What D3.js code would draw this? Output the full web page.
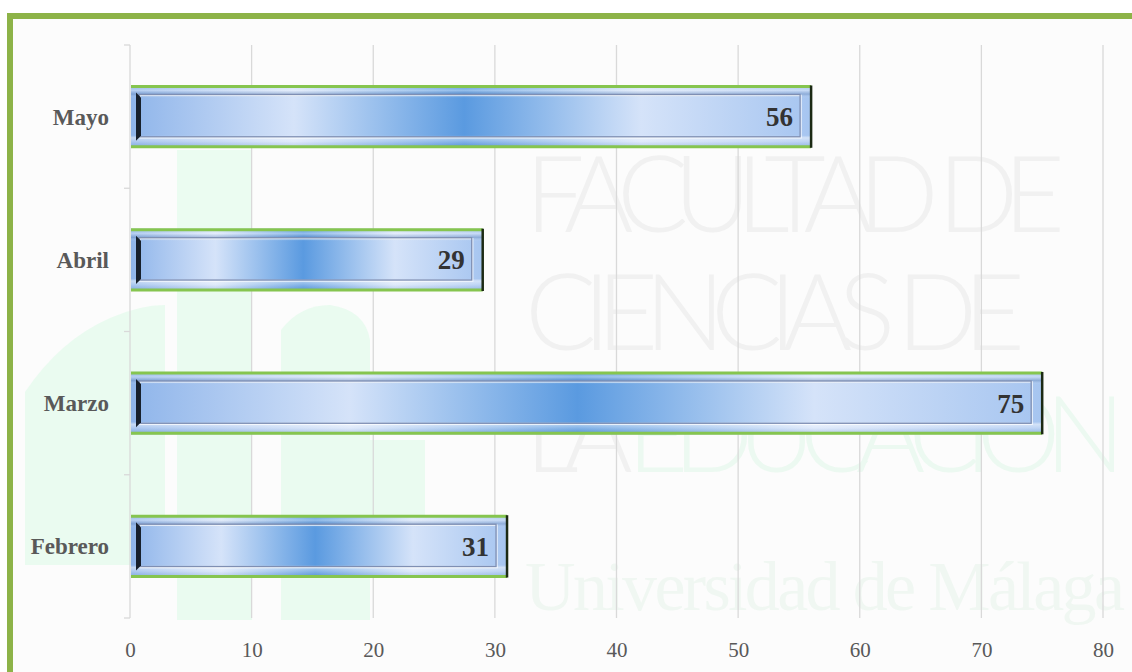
<!DOCTYPE html>
<html>
<head>
<meta charset="utf-8">
<title>Meses</title>
<script src="https://cdn.jsdelivr.net/npm/d3@7"></script>
<style>
  body { margin: 0; background: #ffffff; }
  svg { display: block; }
</style>
</head>
<body>
<script>
// datos
var meses = ["Mayo", "Abril", "Marzo", "Febrero"];
var valores = [56, 29, 75, 31];
var ticksX = [0, 10, 20, 30, 40, 50, 60, 70, 80];

var serif = "Liberation Serif, serif";
var width = 1132, height = 672;
var svg = d3.select("body").append("svg")
  .attr("width", width)
  .attr("height", height);

var defs = svg.append("defs");
var grad = defs.append("linearGradient")
  .attr("id", "barra")
  .attr("x1", "0%").attr("x2", "100%").attr("y1", "0%").attr("y2", "0%");
[[0, "#8fb5ea"], [0.24, "#d5e3f9"], [0.49, "#5a9ae0"], [0.75, "#d5e3f9"], [1, "#a6c5f0"]]
  .forEach(function(s){
    grad.append("stop").attr("offset", s[0]).attr("stop-color", s[1]);
  });
var gv = defs.append("linearGradient")
  .attr("id", "brillo")
  .attr("x1", "0").attr("x2", "0").attr("y1", "0").attr("y2", "1");
[[0, "#ffffff", 0.0], [0.08, "#ffffff", 0.35], [0.14, "#5070a0", 0.3], [0.2, "#ffffff", 0.0],
 [0.8, "#ffffff", 0.0], [0.84, "#ffffff", 0.5], [0.9, "#ffffff", 0.25], [1, "#4070b0", 0.2]]
  .forEach(function(s){
    gv.append("stop").attr("offset", s[0]).attr("stop-color", s[1]).attr("stop-opacity", s[2]);
  });

// fondo y marco verde
svg.append("rect").attr("x", 10).attr("y", 16).attr("width", width).attr("height", height)
  .attr("fill", "#fcfcfc").attr("stroke", "#8db348").attr("stroke-width", 6);

// logo de fondo (muy tenue)
var logo = svg.append("g").attr("fill", "#e6fbee").attr("opacity", 0.8);
logo.append("rect").attr("x", 177).attr("y", 150).attr("width", 75).attr("height", 470);
logo.append("path").attr("d", "M281,620 L281,330 Q300,305 330,305 Q365,310 370,340 L370,620 Z");
logo.append("path").attr("d", "M25,565 L25,392 Q60,340 110,318 Q140,305 165,305 L165,565 Z");
logo.append("rect").attr("x", 370).attr("y", 440).attr("width", 55).attr("height", 80);

// marca de agua
var wm = svg.append("g").attr("font-family", "Lato, Open Sans, sans-serif").attr("font-weight", 300);
wm.append("text").attr("x", 525).attr("y", 232).attr("font-size", 106).attr("fill", "#f1f1f1")
  .attr("textLength", 540).text("FACULTAD DE");
wm.append("text").attr("x", 525).attr("y", 350).attr("font-size", 106).attr("fill", "#f1f1f1")
  .attr("textLength", 500).text("CIENCIAS DE");
var t3 = wm.append("text").attr("x", 525).attr("y", 472).attr("font-size", 106).attr("textLength", 600);
t3.append("tspan").attr("fill", "#f1f1f1").text("LA ");
t3.append("tspan").attr("fill", "#ecf9f1").text("EDUCACIÓN");
wm.append("text").attr("x", 525).attr("y", 610).attr("font-size", 70)
  .attr("font-family", serif).attr("font-weight", 400)
  .attr("fill", "#f0f7f2").attr("textLength", 600).text("Universidad de Málaga");

// escalas
var x = d3.scaleLinear().domain([0, 80]).range([130, 1103]);
var y = d3.scaleBand().domain(meses).range([45, 618]).paddingInner(0.565).paddingOuter(0.2825);

// rejilla
svg.append("g").selectAll("line").data(ticksX).enter().append("line")
  .attr("x1", function(d){ return x(d); }).attr("x2", function(d){ return x(d); })
  .attr("y1", 45).attr("y2", 618)
  .attr("stroke", "#d9d9d9").attr("stroke-width", 1.3);

// eje Y con marcas entre categorias
var yTicks = d3.range(meses.length + 1).map(function(i){ return 45 + i * y.step(); });
svg.append("g").selectAll("line").data(yTicks).enter().append("line")
  .attr("x1", 124).attr("x2", 130)
  .attr("y1", function(d){ return d; }).attr("y2", function(d){ return d; })
  .attr("stroke", "#d9d9d9").attr("stroke-width", 1.3);

// eje X
var ejeX = svg.append("g").attr("transform", "translate(0,618)")
  .attr("font-family", serif)
  .call(d3.axisBottom(x).tickValues(ticksX).tickSize(0).tickPadding(24));
ejeX.attr("font-family", serif).attr("font-size", 21);
ejeX.select(".domain").remove();
ejeX.selectAll("text").attr("fill", "#595959");

// etiquetas de categoria
svg.append("g").selectAll("text").data(meses).enter().append("text")
  .attr("x", 109)
  .attr("y", function(d){ return y(d) + y.bandwidth() / 2; })
  .attr("dy", "0.35em")
  .attr("text-anchor", "end")
  .attr("font-family", serif)
  .attr("font-weight", "bold").attr("font-size", 23).attr("fill", "#595959")
  .text(function(d){ return d; });

// barras
var barras = svg.append("g").selectAll("g").data(meses).enter().append("g")
  .attr("transform", function(d){ return "translate(0," + y(d) + ")"; });
var h = y.bandwidth();
function ancho(d, i){ return x(valores[i]) - x(0); }

barras.append("rect")
  .attr("x", x(0) + 1).attr("y", 0)
  .attr("width", function(d, i){ return ancho(d, i) - 1; }).attr("height", h)
  .attr("fill", "url(#barra)");
barras.append("rect")
  .attr("x", x(0) + 1).attr("y", 0)
  .attr("width", function(d, i){ return ancho(d, i) - 1; }).attr("height", h)
  .attr("fill", "url(#brillo)");
// bisel interior
barras.append("rect")
  .attr("x", x(0) + 10).attr("y", 10)
  .attr("width", function(d, i){ return ancho(d, i) - 20; }).attr("height", h - 20)
  .attr("fill", "none").attr("stroke", "#ffffff").attr("stroke-opacity", 0.7).attr("stroke-width", 1.5);
barras.append("rect")
  .attr("x", x(0) + 9).attr("y", 9)
  .attr("width", function(d, i){ return ancho(d, i) - 20; }).attr("height", h - 20)
  .attr("fill", "none").attr("stroke", "#7f8fb3").attr("stroke-width", 1.3);
// sombra izquierda
barras.append("path")
  .attr("d", function(){
    var x0 = x(0) + 6;
    return "M" + x0 + ",7 L" + (x0 + 5) + ",12 L" + (x0 + 5) + "," + (h - 12) + " L" + x0 + "," + (h - 7) + " Z";
  })
  .attr("fill", "#17202c");
// borde verde arriba y abajo
barras.append("line")
  .attr("x1", x(0) + 1).attr("x2", function(d, i){ return x(valores[i]); })
  .attr("y1", 1).attr("y2", 1)
  .attr("stroke", "#86c54f").attr("stroke-width", 3);
barras.append("line")
  .attr("x1", x(0) + 1).attr("x2", function(d, i){ return x(valores[i]); })
  .attr("y1", h - 1).attr("y2", h - 1)
  .attr("stroke", "#86c54f").attr("stroke-width", 3);
// borde derecho oscuro
barras.append("line")
  .attr("x1", function(d, i){ return x(valores[i]); })
  .attr("x2", function(d, i){ return x(valores[i]); })
  .attr("y1", 0).attr("y2", h)
  .attr("stroke", "#1c2a14").attr("stroke-width", 2.5);

// valores
barras.append("text")
  .attr("x", function(d, i){ return x(valores[i]) - 18; })
  .attr("y", h / 2)
  .attr("dy", "0.35em")
  .attr("text-anchor", "end")
  .attr("font-family", serif)
  .attr("font-weight", "bold").attr("font-size", 27).attr("fill", "#333333")
  .text(function(d, i){ return valores[i]; });
</script>
</body>
</html>
